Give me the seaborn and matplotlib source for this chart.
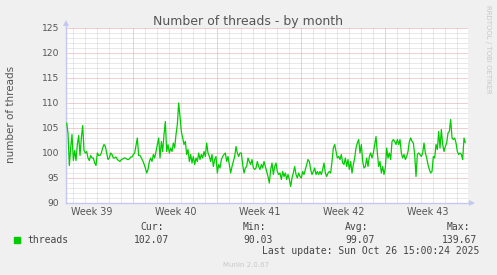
import numpy as np
import pandas as pd
import matplotlib
matplotlib.use("Agg")
import matplotlib.pyplot as plt
import matplotlib.dates as mdates
from matplotlib.ticker import MultipleLocator, NullFormatter
from matplotlib.transforms import blended_transform_factory
from matplotlib.patches import Rectangle
import seaborn as sns

# ---------------- data ----------------
threads = [
    106, 104, 97.5, 101, 103.7, 98.5, 100.5, 98.5, 101.7, 103.5,
    99.5, 103, 105.5, 100.5, 100, 100.3, 99, 98.5, 99.5, 99,
    99, 98, 97.5, 100, 99.5, 99.5, 100, 101, 101.7, 101.3,
    100, 98.7, 99, 100, 99.7, 99, 99, 99.2, 98.7, 98.5,
    98.3, 98.7, 98.8, 99, 99, 98.8, 98.7, 98.8, 99.2, 99.2,
    99.7, 100, 101.5, 103, 99.5, 99.5, 99, 98.5, 97.8, 97,
    96, 96.7, 98.3, 99, 98.3, 99.7, 99, 100.3, 101.7, 103,
    99, 102.3, 100.3, 103.7, 106.3, 100.3, 101.7, 100, 101, 100.3,
    102, 101, 103.7, 105.7, 110, 107.3, 104.3, 103, 101.7, 102.3,
    99.7, 100.7, 98.3, 99.7, 98, 99.3, 97.7, 99, 98.3, 100,
    98.7, 99.7, 99, 100.3, 99.3, 102, 100, 99.3, 98.3, 99.7,
    97.3, 98.7, 99.3, 96, 97.7, 97, 98.7, 99.3, 99.7, 100,
    98.3, 99.3, 97.7, 96, 97.3, 98.3, 99.3, 101.3, 100, 99.3,
    100, 100, 97.7, 96, 97, 97.3, 99, 98.3, 97.7, 98.7,
    97, 96.7, 97, 98.3, 97.3, 96.7, 97.7, 97, 98.3, 97.3,
    96.3, 95.3, 94, 96.7, 98, 95.7, 97.3, 98, 96.3, 95.7,
    96, 94.7, 96.3, 95.3, 96, 94.7, 95.7, 94.7, 93.3, 95,
    96, 97.3, 95.7, 95, 96, 95.3, 95, 96.3, 95.7, 96.7,
    97.7, 98.7, 98.3, 96.7, 95.7, 96.3, 97, 95.7, 96.3, 95.7,
    96.3, 95.7, 96.7, 98, 96, 95.3, 96, 96.3, 96, 98.3,
    101, 101.7, 100.3, 99, 99.3, 98.7, 99.7, 98, 97.7, 99,
    97.3, 98.7, 96.7, 98.3, 96, 97.7, 99, 101, 102, 102.7,
    100, 101.7, 98.3, 97, 97.3, 99, 97.3, 99.3, 100, 99,
    100, 101.7, 103.3, 100, 97.3, 98.3, 96, 97.3, 95.7, 97,
    101, 99, 100, 98.7, 102.3, 102.7, 102.3, 101.7, 102.7, 101.7,
    102.7, 100, 99, 99.7, 98.7, 99.3, 100.3, 102.3, 103, 102.3,
    102, 99.7, 95.3, 99.7, 100, 99.7, 99.3, 100, 102, 100,
    99, 97.7, 96.7, 96, 96.3, 99.3, 99, 101.7, 100.7, 104.3,
    101, 104.7, 101.7, 100.3, 101.3, 102, 104, 104.3, 106.7, 103,
    102.7, 103, 102, 100.3, 99.7, 100, 99.7, 98.7, 103, 102.07,
]
start_time = "2025-09-23 10:45"
sample_step = "160min"
view_start = "2025-09-23 10:00"
view_end = "2025-10-26 22:00"
week_labels = ["Week 39", "Week 40", "Week 41", "Week 42", "Week 43"]
week_centers = ["2025-09-25 12:00", "2025-10-02 12:00", "2025-10-09 12:00",
                "2025-10-16 12:00", "2025-10-23 12:00"]
y_min, y_max = 90, 125
legend_name = "threads"
stat_headers = ["Cur:", "Min:", "Avg:", "Max:"]
stat_values = ["102.07", "90.03", "99.07", "139.67"]
title = "Number of threads - by month"
y_label = "number of threads"
last_update = "Last update: Sun Oct 26 15:00:24 2025"
footer = "Munin 2.0.67"
side_text = "RRDTOOL / TOBI OETIKER"

# ---------------- style ----------------
sns.set_style("white")
plt.rcParams["font.family"] = ["DejaVu Sans"]

W, H = 497, 275
BG = "#F0F0F0"
GREEN = "#00CC00"
AXIS = "#c4c8f0"
MGRID = "#e6a0a0"
GRID = "#d2d2d2"
TXT = "#555555"

fig = plt.figure(figsize=(W / 100, H / 100), dpi=100, facecolor=BG)
L, R, T, B = 66.3, 468.3, 28, 203
ax = fig.add_axes([L / W, 1 - B / H, (R - L) / W, (B - T) / H])
ax.set_facecolor("white")

df = pd.DataFrame({
    "time": pd.date_range(start_time, periods=len(threads), freq=sample_step),
    "threads": threads,
})
sns.lineplot(data=df, x="time", y="threads", ax=ax, color=GREEN,
             linewidth=0.9, zorder=5)

ax.set_xlim(pd.Timestamp(view_start), pd.Timestamp(view_end))
ax.set_ylim(y_min, y_max)

ax.xaxis.set_major_locator(mdates.WeekdayLocator(byweekday=mdates.MO))
ax.xaxis.set_minor_locator(mdates.DayLocator())
ax.xaxis.set_major_formatter(NullFormatter())
ax.xaxis.set_minor_formatter(NullFormatter())
ax.yaxis.set_major_locator(MultipleLocator(5))
ax.yaxis.set_minor_locator(MultipleLocator(1))

dot = (0, (1, 1))
ax.grid(which="minor", color=GRID, linestyle=dot, linewidth=0.72, zorder=1)
ax.grid(which="major", color=MGRID, linestyle=dot, linewidth=0.72, zorder=2)
ax.set_axisbelow(True)

for s in ["top", "right"]:
    ax.spines[s].set_visible(False)
for s in ["left", "bottom"]:
    ax.spines[s].set_color(AXIS)
    ax.spines[s].set_linewidth(1.0)

ax.tick_params(axis="y", which="major", labelsize=6.6, labelcolor=TXT,
               length=1.5, color=AXIS, pad=3.5)
ax.tick_params(axis="y", which="minor", length=1.5, color=AXIS)
ax.tick_params(axis="x", which="major", length=2, color=MGRID)
ax.tick_params(axis="x", which="minor", length=2, color=GRID)
ax.set_xlabel("")
ax.set_ylabel("")

# axis arrows
ax.plot([0, 0], [1.0, 1.03], transform=ax.transAxes, color=AXIS, lw=1.0, clip_on=False)
ax.plot([0], [1.03], marker="^", ms=4.5, color=AXIS, transform=ax.transAxes,
        clip_on=False, markeredgewidth=0)
ax.plot([1.0, 1.01], [0, 0], transform=ax.transAxes, color=AXIS, lw=1.0, clip_on=False)
ax.plot([1.01], [0], marker=">", ms=4.5, color=AXIS, transform=ax.transAxes,
        clip_on=False, markeredgewidth=0)

# week labels
trans = blended_transform_factory(ax.transData, fig.transFigure)
for lab, c in zip(week_labels, week_centers):
    ax.text(mdates.date2num(pd.Timestamp(c)), 1 - 215 / H, lab, transform=trans,
            ha="center", va="baseline", fontsize=6.9, color=TXT)

# title & labels
fig.text(248 / W, 1 - 24.5 / H, title, ha="center", va="baseline",
         fontsize=9, color=TXT)
fig.text(11 / W, 1 - 114 / H, y_label, rotation=90, ha="center", va="center",
         fontsize=7.5, color=TXT)
fig.text(488 / W, 1 - 5 / H, side_text, rotation=270, ha="center", va="top",
         fontsize=5, color="#c8c8c8")

# legend
fig.patches.append(Rectangle((14 / W, 1 - 242.7 / H), 6 / W, 6 / H,
                             transform=fig.transFigure, color=GREEN))
mono = dict(family="DejaVu Sans Mono", fontsize=7, color="#444444", va="baseline")
fig.text(27 / W, 1 - 242.7 / H, legend_name, **mono)
header_x = [140, 243, 345, 447]
value_x = [134, 243, 345, 442]
for h, v, hx, vx in zip(stat_headers, stat_values, header_x, value_x):
    fig.text(hx / W, 1 - 230 / H, h, **mono)
    fig.text(vx / W, 1 - 242.7 / H, v, **mono)
fig.text(262 / W, 1 - 254.3 / H, last_update, **mono)
fig.text(223 / W, 1 - 266.7 / H, footer, fontsize=5, color="#c8c8c8", va="baseline")

fig.savefig("out.png", dpi=100, facecolor=BG)
